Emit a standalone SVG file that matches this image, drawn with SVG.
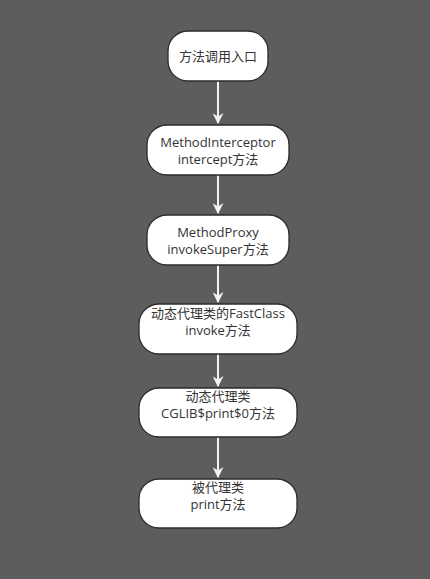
<svg xmlns="http://www.w3.org/2000/svg" width="430" height="579" viewBox="0 0 430 579">
<defs>
<style>
.node rect{fill:#ffffff;stroke:#2b2b2b;stroke-width:1.3}
.node text{font-family:"Open Sans","Noto Sans CJK SC",sans-serif;font-size:13px;fill:#333333;text-anchor:middle}
.conn line{stroke:#f2f2f2;stroke-width:2}
</style>
<marker id="ah" viewBox="0 0 10 10" refX="9" refY="5" markerWidth="5.5" markerHeight="5.5" markerUnits="strokeWidth" orient="auto">
<path d="M0,0 L10,5 L0,10 L3,5 z" fill="#f2f2f2"/>
</marker>
</defs>
<rect x="0" y="0" width="430" height="579" fill="#5d5d5d"/>
<g id="connectors" class="conn">
<line x1="218" y1="81" x2="218" y2="123" marker-end="url(#ah)"/>
<line x1="218" y1="175" x2="218" y2="213" marker-end="url(#ah)"/>
<line x1="218" y1="265" x2="218" y2="302" marker-end="url(#ah)"/>
<line x1="218" y1="354" x2="218" y2="386" marker-end="url(#ah)"/>
<line x1="218" y1="437" x2="218" y2="477" marker-end="url(#ah)"/>
</g>
<g id="n1" class="node">
<rect x="168" y="31" width="100" height="50" rx="20" ry="20"/>
<text x="218" y="61">方法调用入口</text>
</g>
<g id="n2" class="node">
<rect x="147" y="125" width="142" height="50" rx="20" ry="20"/>
<text x="218" y="147">MethodInterceptor</text>
<text x="218" y="164">intercept方法</text>
</g>
<g id="n3" class="node">
<rect x="147" y="215" width="142" height="50" rx="20" ry="20"/>
<text x="218" y="237">MethodProxy</text>
<text x="218" y="254">invokeSuper方法</text>
</g>
<g id="n4" class="node">
<rect x="139" y="304" width="158" height="50" rx="20" ry="20"/>
<text x="218" y="318">动态代理类的FastClass</text>
<text x="218" y="335">invoke方法</text>
</g>
<g id="n5" class="node">
<rect x="139" y="388" width="158" height="49" rx="20" ry="20"/>
<text x="218" y="401">动态代理类</text>
<text x="218" y="418">CGLIB$print$0方法</text>
</g>
<g id="n6" class="node">
<rect x="139" y="479" width="158" height="49" rx="20" ry="20"/>
<text x="218" y="492">被代理类</text>
<text x="218" y="509">print方法</text>
</g>
</svg>
